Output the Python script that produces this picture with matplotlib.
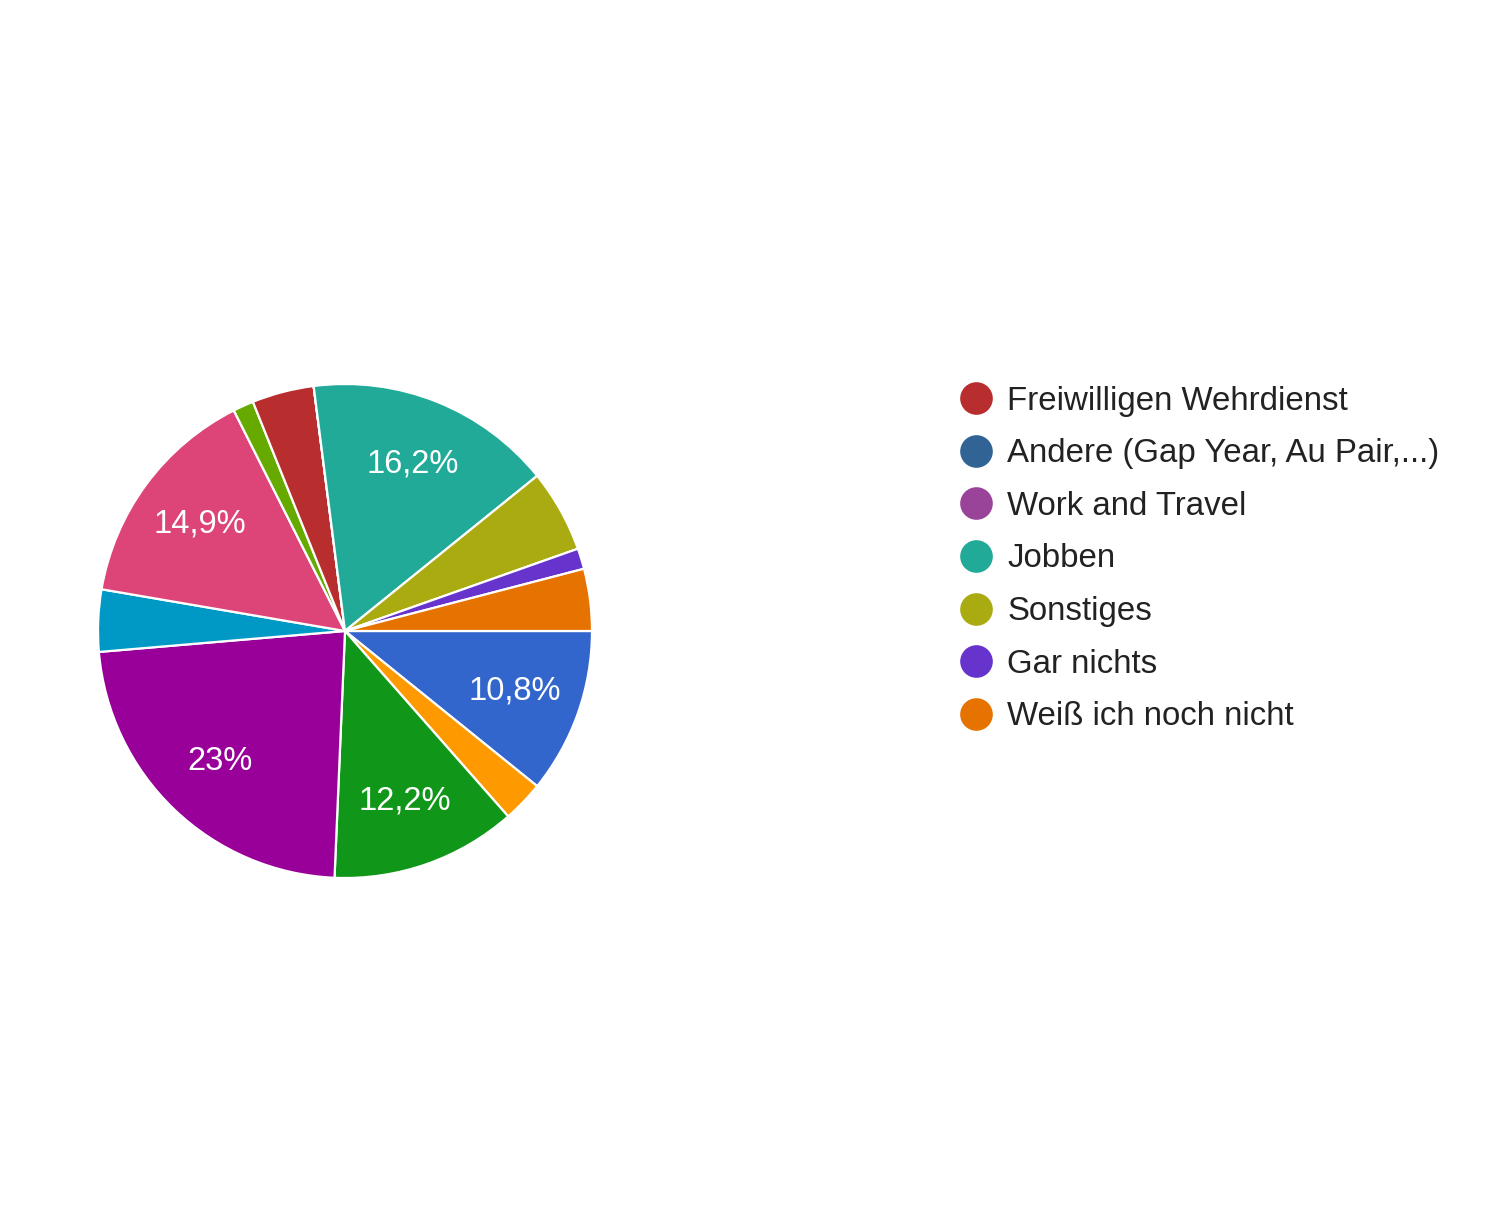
import matplotlib.pyplot as plt
from matplotlib.lines import Line2D

# Antworten (N = 74), Reihenfolge im Uhrzeigersinn ab 3 Uhr
anzahl = [8, 2, 9, 17, 3, 11, 1, 3, 0, 0, 12, 4, 1, 3]
farben = ["#3366cc", "#ff9900", "#109618", "#990099", "#0099c6", "#dd4477",
          "#66aa00", "#b82e2e", "#316395", "#994499", "#22aa99", "#aaaa11",
          "#6633cc", "#e67300"]

# sichtbarer Teil der Legende (ab dem 8. Eintrag)
legende_start = 7
legende_texte = ["Freiwilligen Wehrdienst", "Andere (Gap Year, Au Pair,...)",
                 "Work and Travel", "Jobben", "Sonstiges", "Gar nichts",
                 "Weiß ich noch nicht"]

plt.rcParams['font.family'] = ['Liberation Sans', 'DejaVu Sans']


def prozent(p):
    if p < 10:
        return ''
    wert = round(p, 1)
    if wert == int(wert):
        return f"{int(wert)}%"
    return f"{wert:.1f}".replace('.', ',') + '%'


fig = plt.figure(figsize=(15, 12.32), dpi=100)
ax = fig.add_axes([98 / 1500, 354 / 1232, 494 / 1500, 494 / 1232])

wedges, texte, pct = ax.pie(anzahl, colors=farben, startangle=0, counterclock=False,
                            autopct=prozent, pctdistance=0.73,
                            wedgeprops=dict(edgecolor='white', linewidth=1.6),
                            textprops=dict(color='white', fontsize=23.5))
ax.set_xlim(-1, 1)
ax.set_ylim(-1, 1)
ax.set_aspect('equal')

handles = [Line2D([], [], marker='o', linestyle='', markersize=23.5,
                  markerfacecolor=farben[legende_start + i], markeredgecolor='none')
           for i in range(len(legende_texte))]
fig.legend(handles, legende_texte, loc='upper left', bbox_to_anchor=(940 / 1500, 1 - 369 / 1232),
           frameon=False, fontsize=23.8, labelspacing=0.655, handletextpad=0.33,
           handlelength=1.2, borderpad=0, labelcolor='#222222')

plt.savefig('out.png', dpi=100, facecolor='white')
